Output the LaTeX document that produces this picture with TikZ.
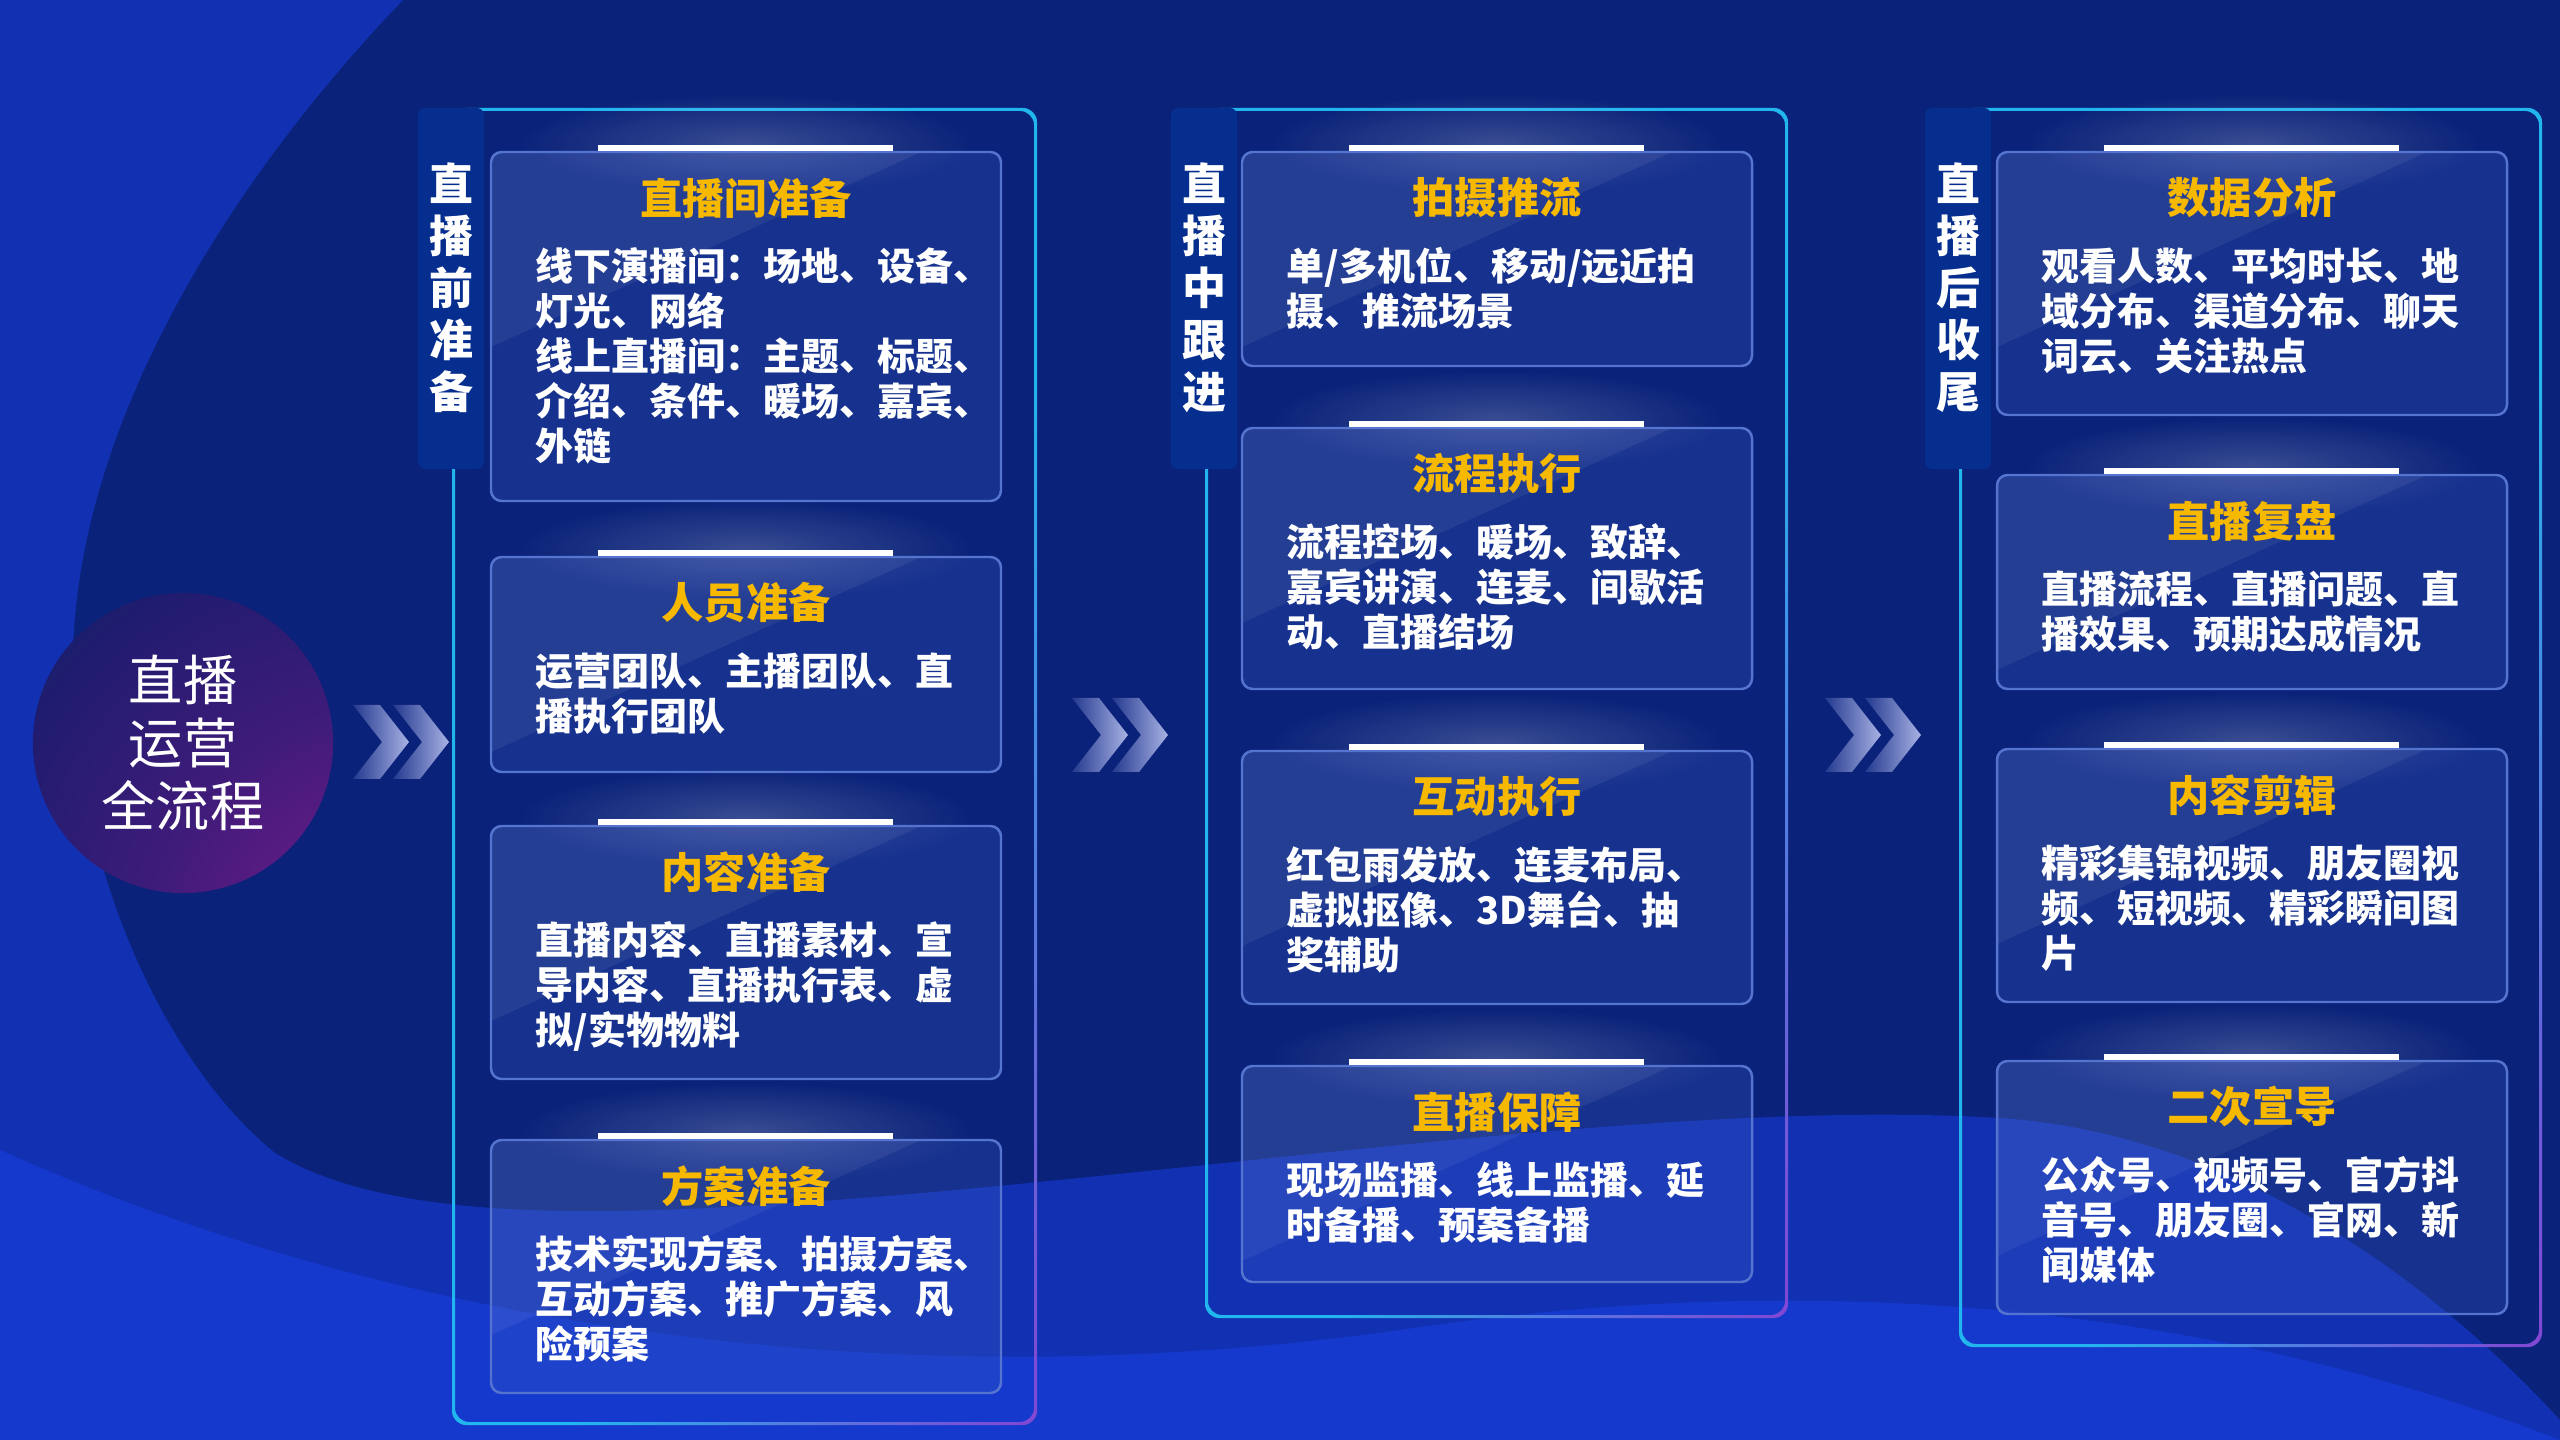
\documentclass[tikz,border=0pt]{standalone}
\usepackage{fontspec}
\setmainfont{Noto Sans CJK SC}
\usetikzlibrary{fadings}

\definecolor{navy}{HTML}{0A2279}
\definecolor{brightbg}{HTML}{1131B2}
\definecolor{wavebg}{HTML}{1539CC}
\definecolor{fcyan}{HTML}{22B6EE}
\definecolor{fpurple}{HTML}{9A2ACB}
\definecolor{tabblue}{HTML}{062E8E}
\definecolor{cardbase}{HTML}{3B5CC8}
\definecolor{cardedgecol}{HTML}{5574D0}
\definecolor{gold}{HTML}{F7B900}
\definecolor{circnavy}{HTML}{0C1D68}
\definecolor{circpurple}{HTML}{7A1A8E}
\definecolor{chevdark}{HTML}{24398F}
\definecolor{chevlight}{HTML}{A8B2E4}

\pgfdeclareradialshading{framegrad}{\pgfpoint{50bp}{-50bp}}{color(0bp)=(fpurple); color(18bp)=(fpurple); color(50bp)=(fcyan); color(160bp)=(fcyan)}
\pgfdeclareradialshading{circgrad}{\pgfpoint{45bp}{-45bp}}{color(0bp)=(circpurple); color(12bp)=(circpurple); color(40bp)=(circpurple!45!circnavy); color(75bp)=(circnavy); color(160bp)=(circnavy)}
\tikzfading[name=glowfade, inner color=transparent!30, outer color=transparent!100]

% one stage frame: name, left, right, bottom, vertical label
\newcommand{\stage}[5]{%
  \shade[shading=framegrad, even odd rule, rounded corners=4pt]
    (#2,108) rectangle (#3,#4) (#2+3,111) rectangle (#3-3,#4-3);
  \fill[tabblue, rounded corners=2pt] (#2-34,108) rectangle (#2+32,469);
  \node[tabtext] (#1) at (#2-1,288) {#5};
}
% one card: name, left, top, bottom, title, text
\newcommand{\card}[6]{%
  \fill[white, opacity=0.28, path fading=glowfade] (#2+255,#3-8) ellipse (230 and 50);
  \fill[cardfill, rounded corners=3pt] (#2,#3) rectangle (#2+510,#4);
  \begin{scope}
    \clip[rounded corners=3pt] (#2,#3) rectangle (#2+510,#4);
    \fill[white, opacity=0.06] (#2,#3) -- (#2+430,#3) -- (#2,#3+195) -- cycle;
  \end{scope}
  \draw[cardedge] (#2,#3) rectangle (#2+510,#4);
  \fill[white] (#2+107,#3-7) rectangle (#2+402,#3-1);
  \node[cardtitle] (#1) at (#2+255,#3+46) {#5};
  \node[cardbody] (#1 body) at (#2+44,#3+95) {#6};
}
% double chevron: left x, middle y
\newcommand{\chevrons}[2]{%
  \foreach \dx in {0,40} {
    \shade[left color=chevdark, right color=chevlight]
      (#1+\dx,#2-37) -- (#1+\dx+27,#2-37) -- (#1+\dx+56,#2) -- (#1+\dx+27,#2+37)
      -- (#1+\dx,#2+37) -- (#1+\dx+29,#2) -- cycle;
  }
}

\begin{document}
\begin{tikzpicture}[x=0.01cm, y=-0.01cm,
    cardfill/.style={fill=cardbase, fill opacity=0.28},
    cardedge/.style={draw=cardedgecol, line width=0.7pt, rounded corners=3pt},
    cardtitle/.style={text=gold, font=\bfseries\fontsize{12}{14}\selectfont, inner sep=0pt},
    cardbody/.style={anchor=north west, text=white, align=left, inner sep=0pt,
      font=\bfseries\fontsize{10.8}{12.8}\selectfont},
    tabtext/.style={text=white, align=center, inner sep=0pt,
      font=\bfseries\fontsize{12.5}{14.8}\selectfont},
    hub/.style={circle, shade, shading=circgrad, minimum size=3cm, inner sep=0pt,
      text=white, align=center, font=\fontsize{15.4}{18}\selectfont}]
  \useasboundingbox (0,0) rectangle (2560,1440);

  % background
  \fill[navy] (0,0) rectangle (2560,1440);
  \fill[brightbg] (0,0) -- (403,0) .. controls (230,180) and (80,420) .. (73,650)
    .. controls (68,850) and (160,1060) .. (275,1153)
    .. controls (400,1230) and (650,1215) .. (900,1195)
    .. controls (1300,1160) and (1700,1100) .. (2000,1118)
    .. controls (2250,1135) and (2450,1300) .. (2560,1420)
    -- (2560,1440) -- (0,1440) -- cycle;
  \fill[wavebg] (0,1150) .. controls (400,1330) and (900,1400) .. (1400,1330)
    .. controls (1800,1270) and (2200,1300) .. (2560,1440) -- (0,1440) -- cycle;

  \node[hub] (start) at (183,743) {直播\\运营\\全流程};

  \chevrons{353}{742}
  \chevrons{1072}{735}
  \chevrons{1825}{735}

  % before the live
  \stage{pre}{452}{1037}{1425}{直\\播\\前\\准\\备}
  \card{pre1}{491}{152}{501}{直播间准备}{线下演播间：场地、设备、\\灯光、网络\\线上直播间：主题、标题、\\介绍、条件、暖场、嘉宾、\\外链}
  \card{pre2}{491}{557}{772}{人员准备}{运营团队、主播团队、直\\播执行团队}
  \card{pre3}{491}{826}{1079}{内容准备}{直播内容、直播素材、宣\\导内容、直播执行表、虚\\拟/实物物料}
  \card{pre4}{491}{1140}{1393}{方案准备}{技术实现方案、拍摄方案、\\互动方案、推广方案、风\\险预案}

  % during the live
  \stage{mid}{1205}{1788}{1318}{直\\播\\中\\跟\\进}
  \card{mid1}{1242}{152}{366}{拍摄推流}{单/多机位、移动/远近拍\\摄、推流场景}
  \card{mid2}{1242}{428}{689}{流程执行}{流程控场、暖场、致辞、\\嘉宾讲演、连麦、间歇活\\动、直播结场}
  \card{mid3}{1242}{751}{1004}{互动执行}{红包雨发放、连麦布局、\\虚拟抠像、3D舞台、抽\\奖辅助}
  \card{mid4}{1242}{1066}{1282}{直播保障}{现场监播、线上监播、延\\时备播、预案备播}

  % after the live
  \stage{post}{1959}{2542}{1347}{直\\播\\后\\收\\尾}
  \card{post1}{1997}{152}{415}{数据分析}{观看人数、平均时长、地\\域分布、渠道分布、聊天\\词云、关注热点}
  \card{post2}{1997}{475}{689}{直播复盘}{直播流程、直播问题、直\\播效果、预期达成情况}
  \card{post3}{1997}{749}{1002}{内容剪辑}{精彩集锦视频、朋友圈视\\频、短视频、精彩瞬间图\\片}
  \card{post4}{1997}{1061}{1314}{二次宣导}{公众号、视频号、官方抖\\音号、朋友圈、官网、新\\闻媒体}
\end{tikzpicture}
\end{document}
